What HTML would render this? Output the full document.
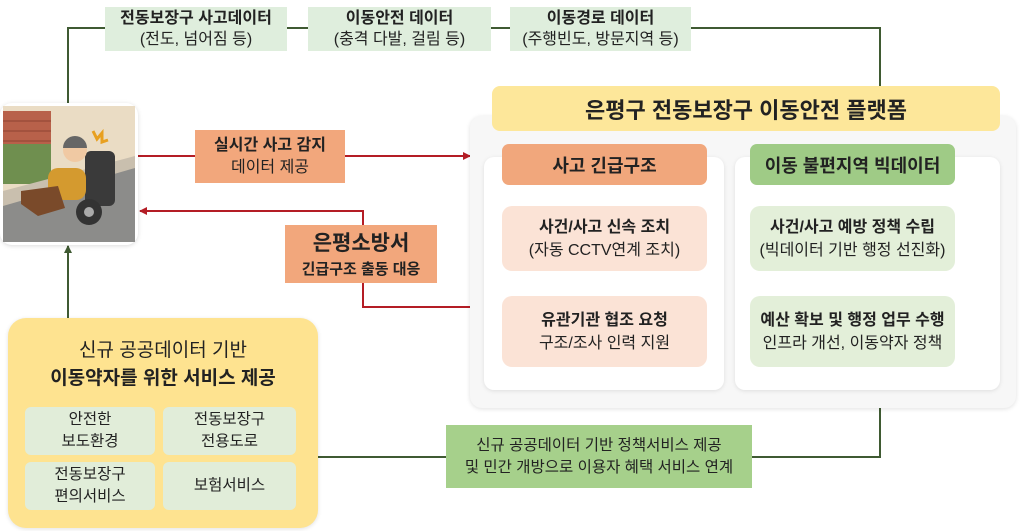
<!DOCTYPE html>
<html><head><meta charset="utf-8">
<style>
*{margin:0;padding:0;box-sizing:border-box}
body{width:1024px;height:531px;background:#fff;position:relative;overflow:hidden;font-family:"Liberation Sans","Noto Sans CJK KR",sans-serif;color:#222}
.a{position:absolute}
.c{display:flex;flex-direction:column;align-items:center;justify-content:center;text-align:center}
.tl{background:#dfeedd;font-size:16px;line-height:21px}
.b{font-weight:bold}
.or{background:#f2a77c}
.lo{background:#fbe3d6;border-radius:10px;font-size:16px;line-height:23px}
.lg{background:#e3efd9;border-radius:10px;font-size:16px;line-height:23px}
.cell{background:#e1edd9;border-radius:6px;font-size:15.5px;line-height:22px}
</style></head><body>
<svg class="a" style="left:0;top:0" width="1024" height="531">
<defs>
<marker id="ar" markerWidth="8" markerHeight="8" refX="7" refY="4" orient="auto" markerUnits="userSpaceOnUse"><path d="M0,0 L8,4 L0,8z" fill="#b41d25"/></marker>
<marker id="ag" markerWidth="8" markerHeight="8" refX="7" refY="4" orient="auto" markerUnits="userSpaceOnUse"><path d="M0,0 L8,4 L0,8z" fill="#3f5a32"/></marker>
</defs>
<g fill="none" stroke="#3f5a32" stroke-width="2">
<polyline points="68,103 68,28 880,28 880,86"/>
<polyline points="318,457 880,457 880,408"/>
<line x1="68" y1="318" x2="68" y2="246" marker-end="url(#ag)"/>
<line x1="857" y1="131" x2="857" y2="144" marker-end="url(#ag)"/>
<line x1="855" y1="271" x2="855" y2="296" marker-end="url(#ag)"/>
</g>
<g fill="none" stroke="#b41d25" stroke-width="2">
<line x1="138" y1="156" x2="470" y2="156" marker-end="url(#ar)"/>
<polyline points="497,307 363,307 363,211 140,211" marker-end="url(#ar)"/>
<line x1="604" y1="271" x2="604" y2="296" marker-end="url(#ar)"/>
</g>
</svg>

<div class="a c tl" style="left:105px;top:7px;width:182px;height:44px"><span class="b">전동보장구 사고데이터</span><span>(전도, 넘어짐 등)</span></div>
<div class="a c tl" style="left:308px;top:7px;width:183px;height:44px"><span class="b">이동안전 데이터</span><span>(충격 다발, 걸림 등)</span></div>
<div class="a c tl" style="left:510px;top:7px;width:181px;height:44px"><span class="b">이동경로 데이터</span><span>(주행빈도, 방문지역 등)</span></div>

<div class="a" style="left:0;top:103px;width:138px;height:142px;background:#fff;border-radius:12px;box-shadow:0 1px 5px rgba(0,0,0,.15);padding:3px">
<svg width="132" height="136" viewBox="0 0 132 136">
<rect width="132" height="136" fill="#eadcc4"/>
<rect x="0" y="5" width="48" height="55" fill="#b8614a"/>
<g stroke="#8e4433" stroke-width="1"><line x1="0" y1="15" x2="48" y2="15"/><line x1="0" y1="25" x2="48" y2="25"/><line x1="0" y1="35" x2="48" y2="35"/></g>
<rect x="0" y="38" width="48" height="40" fill="#6f8f4f"/>
<polygon points="0,95 132,60 132,136 0,136" fill="#8c8c8a"/>
<polygon points="0,85 132,50 132,62 0,100" fill="#c9bfae"/>
<rect x="82" y="45" width="30" height="55" rx="6" fill="#3a3a3a"/>
<circle cx="86" cy="106" r="13" fill="#333"/><circle cx="86" cy="106" r="5" fill="#aaa"/>
<rect x="45" y="62" width="38" height="32" rx="10" fill="#d49a2f"/>
<polygon points="18,85 55,80 62,102 35,110 18,98" fill="#7a4a2a"/>
<circle cx="72" cy="44" r="12" fill="#f0c9a3"/>
<path d="M60,42 a12,12 0 0 1 24,0z" fill="#666"/>
<path d="M90,25 l4,8 l5,-6 l0,9 l6,-2" stroke="#e8a020" stroke-width="3" fill="none"/>
</svg></div>

<div class="a c or" style="left:195px;top:130px;width:150px;height:53px;font-size:16px;line-height:22px"><span class="b">실시간 사고 감지</span><span>데이터 제공</span></div>
<div class="a c or" style="left:285px;top:225px;width:152px;height:58px"><span class="b" style="font-size:21px;line-height:28px">은평소방서</span><span class="b" style="font-size:15px">긴급구조 출동 대응</span></div>

<div class="a" style="left:470px;top:116px;width:546px;height:292px;background:#f7f7f7;border-radius:12px;box-shadow:0 1px 5px rgba(0,0,0,.12)"></div>
<div class="a" style="left:484px;top:157px;width:240px;height:233px;background:#fff;border-radius:10px;box-shadow:0 1px 4px rgba(0,0,0,.1)"></div>
<div class="a" style="left:735px;top:157px;width:265px;height:233px;background:#fff;border-radius:10px;box-shadow:0 1px 4px rgba(0,0,0,.1)"></div>
<div class="a c b" style="left:492px;top:86px;width:508px;height:45px;background:#fde79a;border-radius:8px;font-size:22px">은평구 전동보장구 이동안전 플랫폼</div>
<div class="a c b" style="left:502px;top:144px;width:205px;height:41px;background:#f1a77c;border-radius:7px;font-size:18px">사고 긴급구조</div>
<div class="a c b" style="left:750px;top:144px;width:205px;height:41px;background:#9fcb86;border-radius:7px;font-size:18px">이동 불편지역 빅데이터</div>
<div class="a c lo" style="left:502px;top:206px;width:205px;height:65px"><span class="b">사건/사고 신속 조치</span><span>(자동 CCTV연계 조치)</span></div>
<div class="a c lo" style="left:502px;top:296px;width:205px;height:71px"><span class="b">유관기관 협조 요청</span><span>구조/조사 인력 지원</span></div>
<div class="a c lg" style="left:750px;top:206px;width:205px;height:65px"><span class="b">사건/사고 예방 정책 수립</span><span>(빅데이터 기반 행정 선진화)</span></div>
<div class="a c lg" style="left:750px;top:296px;width:205px;height:71px"><span class="b">예산 확보 및 행정 업무 수행</span><span>인프라 개선, 이동약자 정책</span></div>

<div class="a c" style="left:446px;top:425px;width:306px;height:63px;background:#a6d08b;font-size:15.5px;line-height:22px"><span>신규 공공데이터 기반 정책서비스 제공</span><span>및 민간 개방으로 이용자 혜택 서비스 연계</span></div>

<div class="a" style="left:8px;top:318px;width:310px;height:210px;background:#fee390;border-radius:18px;box-shadow:0 1px 4px rgba(0,0,0,.12)"></div>
<div class="a c" style="left:8px;top:336px;width:310px;height:58px;font-size:19px;line-height:28px"><span>신규 공공데이터 기반</span><span class="b">이동약자를 위한 서비스 제공</span></div>
<div class="a c cell" style="left:25px;top:407px;width:130px;height:48px"><span>안전한</span><span>보도환경</span></div>
<div class="a c cell" style="left:163px;top:407px;width:133px;height:48px"><span>전동보장구</span><span>전용도로</span></div>
<div class="a c cell" style="left:25px;top:462px;width:130px;height:48px"><span>전동보장구</span><span>편의서비스</span></div>
<div class="a c cell" style="left:163px;top:462px;width:133px;height:48px"><span>보험서비스</span></div>
</body></html>
